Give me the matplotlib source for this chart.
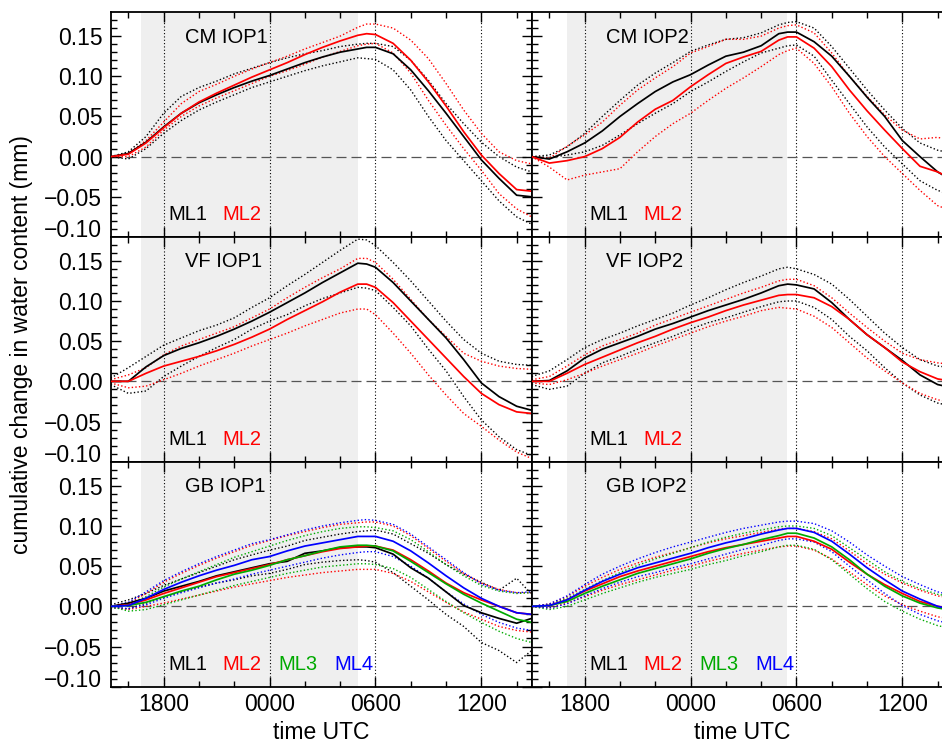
import matplotlib
matplotlib.use("Agg")
import matplotlib.pyplot as plt
import numpy as np

plt.rcParams['font.family'] = ['Liberation Sans', 'DejaVu Sans']

# time axis (hours since 00 UTC of first day)
hours = [15, 16, 17, 18, 19, 20, 21, 22, 23, 24, 25, 26, 27, 28, 29, 29.5,
         30, 31, 32, 33, 34, 35, 36, 37, 38, 38.85]
tick_hours = [18, 24, 30, 36]
tick_labels = ["1800", "0000", "0600", "1200"]
night_iop1 = (16.7, 29.0)
night_iop2 = (17.0, 29.45)

# ---------------- CM IOP1 ----------------
cm1_ml1 = [0.0, 0.004, 0.018, 0.037, 0.054, 0.067, 0.077, 0.086, 0.094, 0.101, 0.109, 0.117, 0.124, 0.130, 0.134, 0.136,
           0.136, 0.128, 0.108, 0.082, 0.054, 0.025, -0.004, -0.027, -0.048, -0.050]
cm1_ml1_hi = [0.0, 0.006, 0.025, 0.054, 0.075, 0.086, 0.094, 0.103, 0.110, 0.117, 0.123, 0.128, 0.132, 0.137, 0.140, 0.141,
              0.141, 0.137, 0.120, 0.095, 0.066, 0.041, 0.018, 0.0, -0.013, -0.019]
cm1_ml1_lo = [0.0, -0.003, 0.010, 0.029, 0.045, 0.058, 0.068, 0.077, 0.086, 0.093, 0.100, 0.107, 0.113, 0.118, 0.123, 0.122,
              0.121, 0.108, 0.083, 0.050, 0.020, -0.005, -0.030, -0.055, -0.075, -0.084]
cm1_ml2 = [0.0, 0.003, 0.017, 0.036, 0.054, 0.068, 0.079, 0.089, 0.099, 0.108, 0.117, 0.127, 0.136, 0.144, 0.151, 0.153,
           0.152, 0.141, 0.120, 0.093, 0.063, 0.031, 0.002, -0.021, -0.041, -0.043]
cm1_ml2_hi = [0.0, 0.004, 0.020, 0.043, 0.066, 0.081, 0.090, 0.100, 0.109, 0.117, 0.125, 0.134, 0.142, 0.150, 0.161, 0.165,
              0.165, 0.160, 0.145, 0.122, 0.091, 0.058, 0.029, 0.006, -0.005, -0.009]
cm1_ml2_lo = [0.0, 0.0, 0.012, 0.033, 0.050, 0.063, 0.073, 0.082, 0.091, 0.100, 0.107, 0.115, 0.124, 0.131, 0.138, 0.140,
              0.141, 0.129, 0.104, 0.070, 0.039, 0.010, -0.017, -0.046, -0.065, -0.075]

# ---------------- CM IOP2 ----------------
cm2_ml1 = [0.0, -0.003, 0.006, 0.017, 0.032, 0.050, 0.066, 0.081, 0.093, 0.102, 0.114, 0.125, 0.130, 0.138, 0.153, 0.155,
           0.155, 0.143, 0.125, 0.100, 0.074, 0.050, 0.020, 0.0, -0.019, -0.030]
cm2_ml1_hi = [0.0, 0.002, 0.012, 0.029, 0.050, 0.070, 0.089, 0.104, 0.117, 0.131, 0.139, 0.146, 0.148, 0.154, 0.164, 0.167,
              0.168, 0.160, 0.137, 0.110, 0.083, 0.058, 0.035, 0.017, 0.008, 0.004]
cm2_ml1_lo = [0.0, -0.001, 0.002, 0.006, 0.014, 0.027, 0.041, 0.054, 0.066, 0.081, 0.093, 0.106, 0.118, 0.129, 0.135, 0.138,
              0.139, 0.125, 0.095, 0.066, 0.037, 0.012, -0.009, -0.030, -0.042, -0.048]
cm2_ml2 = [0.0, -0.008, -0.005, 0.0, 0.010, 0.024, 0.043, 0.059, 0.070, 0.087, 0.102, 0.116, 0.124, 0.131, 0.145, 0.149,
           0.149, 0.135, 0.112, 0.083, 0.057, 0.033, 0.010, -0.012, -0.019, -0.028]
cm2_ml2_hi = [0.0, -0.002, 0.013, 0.027, 0.043, 0.064, 0.083, 0.098, 0.112, 0.129, 0.137, 0.146, 0.146, 0.150, 0.160, 0.163,
              0.164, 0.154, 0.129, 0.100, 0.075, 0.052, 0.033, 0.022, 0.024, 0.020]
cm2_ml2_lo = [0.0, -0.013, -0.029, -0.023, -0.019, -0.015, 0.006, 0.025, 0.041, 0.054, 0.070, 0.085, 0.098, 0.112, 0.127, 0.132,
              0.135, 0.116, 0.087, 0.054, 0.025, 0.0, -0.021, -0.042, -0.061, -0.068]

# ---------------- VF IOP1 ----------------
vf1_ml1 = [0.0, 0.0, 0.018, 0.032, 0.041, 0.048, 0.056, 0.065, 0.075, 0.086, 0.098, 0.110, 0.123, 0.135, 0.147, 0.146,
           0.142, 0.123, 0.100, 0.077, 0.054, 0.027, -0.002, -0.019, -0.031, -0.036]
vf1_ml1_hi = [0.004, 0.017, 0.031, 0.045, 0.054, 0.063, 0.070, 0.079, 0.092, 0.104, 0.119, 0.133, 0.148, 0.163, 0.177, 0.176,
              0.169, 0.148, 0.125, 0.100, 0.075, 0.052, 0.035, 0.025, 0.021, 0.020]
vf1_ml1_lo = [-0.004, -0.015, -0.012, 0.006, 0.019, 0.031, 0.042, 0.052, 0.065, 0.075, 0.083, 0.094, 0.103, 0.110, 0.117, 0.116,
              0.113, 0.092, 0.069, 0.040, 0.013, -0.019, -0.048, -0.069, -0.085, -0.092]
vf1_ml2 = [0.0, 0.0, 0.010, 0.019, 0.025, 0.031, 0.038, 0.046, 0.055, 0.065, 0.077, 0.088, 0.099, 0.111, 0.121, 0.121,
           0.117, 0.098, 0.075, 0.052, 0.029, 0.006, -0.015, -0.029, -0.038, -0.040]
vf1_ml2_hi = [0.002, 0.008, 0.017, 0.033, 0.044, 0.052, 0.060, 0.068, 0.079, 0.090, 0.104, 0.117, 0.129, 0.140, 0.153, 0.153,
              0.148, 0.127, 0.102, 0.077, 0.056, 0.035, 0.025, 0.019, 0.016, 0.015]
vf1_ml2_lo = [-0.002, -0.008, -0.006, 0.002, 0.010, 0.019, 0.027, 0.035, 0.044, 0.052, 0.060, 0.069, 0.077, 0.085, 0.090, 0.090,
              0.083, 0.060, 0.035, 0.008, -0.017, -0.040, -0.056, -0.073, -0.088, -0.096]

# ---------------- VF IOP2 ----------------
vf2_ml1 = [0.0, 0.001, 0.013, 0.029, 0.040, 0.048, 0.056, 0.065, 0.072, 0.080, 0.088, 0.095, 0.102, 0.110, 0.119, 0.121,
           0.120, 0.115, 0.098, 0.077, 0.058, 0.042, 0.026, 0.008, -0.004, -0.008]
vf2_ml1_hi = [0.006, 0.013, 0.027, 0.042, 0.052, 0.060, 0.069, 0.077, 0.085, 0.095, 0.104, 0.114, 0.123, 0.131, 0.140, 0.142,
              0.140, 0.133, 0.121, 0.102, 0.081, 0.060, 0.042, 0.027, 0.019, 0.017]
vf2_ml1_lo = [-0.004, -0.010, -0.006, 0.010, 0.023, 0.031, 0.040, 0.048, 0.056, 0.065, 0.073, 0.079, 0.086, 0.093, 0.099, 0.100,
              0.100, 0.092, 0.077, 0.056, 0.038, 0.017, -0.002, -0.017, -0.027, -0.031]
vf2_ml2 = [0.0, 0.0, 0.010, 0.021, 0.030, 0.039, 0.048, 0.056, 0.065, 0.073, 0.080, 0.088, 0.095, 0.101, 0.107, 0.108,
           0.108, 0.104, 0.093, 0.077, 0.058, 0.042, 0.024, 0.012, 0.003, 0.0]
vf2_ml2_hi = [0.002, 0.006, 0.019, 0.033, 0.044, 0.052, 0.060, 0.070, 0.078, 0.086, 0.094, 0.102, 0.110, 0.117, 0.125, 0.127,
              0.127, 0.119, 0.104, 0.085, 0.067, 0.050, 0.035, 0.027, 0.023, 0.021]
vf2_ml2_lo = [-0.002, -0.004, 0.002, 0.010, 0.019, 0.027, 0.035, 0.044, 0.052, 0.060, 0.068, 0.075, 0.081, 0.088, 0.092, 0.091,
              0.090, 0.081, 0.067, 0.048, 0.029, 0.013, -0.002, -0.015, -0.023, -0.026]

# ---------------- GB IOP1 ----------------
gb1_ml1 = [0.0, 0.004, 0.010, 0.019, 0.025, 0.031, 0.038, 0.043, 0.048, 0.053, 0.056, 0.066, 0.069, 0.073, 0.074, 0.074,
           0.073, 0.065, 0.048, 0.035, 0.018, 0.001, -0.008, -0.015, -0.021, -0.015]
gb1_ml1_hi = [0.002, 0.008, 0.016, 0.026, 0.034, 0.042, 0.050, 0.058, 0.064, 0.070, 0.075, 0.082, 0.086, 0.090, 0.093, 0.094,
              0.095, 0.090, 0.078, 0.066, 0.052, 0.040, 0.030, 0.020, 0.035, 0.015]
gb1_ml1_lo = [-0.002, -0.003, 0.004, 0.012, 0.018, 0.024, 0.029, 0.033, 0.038, 0.041, 0.046, 0.052, 0.055, 0.057, 0.058, 0.057,
              0.055, 0.042, 0.025, 0.008, -0.010, -0.025, -0.045, -0.055, -0.070, -0.055]
gb1_ml2 = [0.0, 0.002, 0.008, 0.016, 0.023, 0.030, 0.037, 0.042, 0.047, 0.052, 0.058, 0.063, 0.068, 0.072, 0.074, 0.075,
           0.075, 0.070, 0.058, 0.044, 0.029, 0.017, 0.008, 0.0, -0.008, -0.010]
gb1_ml2_hi = [0.0, 0.004, 0.016, 0.030, 0.041, 0.051, 0.060, 0.068, 0.076, 0.082, 0.088, 0.093, 0.098, 0.102, 0.104, 0.105,
              0.105, 0.100, 0.088, 0.072, 0.056, 0.041, 0.029, 0.021, 0.017, 0.017]
gb1_ml2_lo = [0.0, -0.004, 0.0, 0.004, 0.009, 0.014, 0.019, 0.024, 0.028, 0.032, 0.036, 0.039, 0.042, 0.044, 0.046, 0.046,
              0.046, 0.041, 0.031, 0.018, 0.005, -0.007, -0.016, -0.025, -0.030, -0.032]
gb1_ml3 = [0.0, 0.001, 0.005, 0.012, 0.019, 0.025, 0.033, 0.040, 0.045, 0.051, 0.058, 0.063, 0.069, 0.074, 0.076, 0.076,
           0.075, 0.069, 0.056, 0.042, 0.028, 0.015, 0.004, -0.006, -0.016, -0.020]
gb1_ml3_hi = [0.0, 0.003, 0.012, 0.024, 0.034, 0.043, 0.052, 0.061, 0.068, 0.075, 0.082, 0.088, 0.093, 0.097, 0.099, 0.099,
              0.098, 0.094, 0.083, 0.068, 0.052, 0.038, 0.026, 0.019, 0.016, 0.017]
gb1_ml3_lo = [0.0, -0.006, -0.004, 0.002, 0.008, 0.014, 0.020, 0.026, 0.031, 0.036, 0.041, 0.045, 0.049, 0.051, 0.053, 0.053,
              0.052, 0.047, 0.036, 0.021, 0.006, -0.008, -0.020, -0.031, -0.040, -0.045]
gb1_ml4 = [0.0, 0.001, 0.010, 0.021, 0.030, 0.038, 0.045, 0.051, 0.058, 0.062, 0.069, 0.075, 0.079, 0.083, 0.087, 0.087,
           0.087, 0.081, 0.069, 0.054, 0.038, 0.023, 0.010, 0.0, -0.008, -0.010]
gb1_ml4_hi = [0.0, 0.005, 0.018, 0.032, 0.043, 0.053, 0.062, 0.070, 0.078, 0.083, 0.089, 0.095, 0.100, 0.104, 0.107, 0.108,
              0.107, 0.102, 0.090, 0.074, 0.058, 0.042, 0.028, 0.020, 0.017, 0.018]
gb1_ml4_lo = [0.0, -0.003, 0.002, 0.010, 0.017, 0.023, 0.029, 0.034, 0.040, 0.045, 0.050, 0.055, 0.060, 0.064, 0.067, 0.068,
              0.068, 0.062, 0.050, 0.035, 0.018, 0.003, -0.010, -0.020, -0.027, -0.030]

# ---------------- GB IOP2 ----------------
gb2_ml2 = [0.0, 0.001, 0.008, 0.019, 0.028, 0.037, 0.044, 0.050, 0.056, 0.062, 0.068, 0.073, 0.077, 0.081, 0.085, 0.087,
           0.087, 0.081, 0.071, 0.055, 0.040, 0.027, 0.016, 0.006, 0.0, -0.003]
gb2_ml2_hi = [0.0, 0.003, 0.012, 0.025, 0.036, 0.046, 0.054, 0.061, 0.067, 0.073, 0.079, 0.084, 0.088, 0.092, 0.096, 0.097,
              0.097, 0.093, 0.084, 0.069, 0.053, 0.040, 0.029, 0.020, 0.013, 0.010]
gb2_ml2_lo = [0.0, -0.002, 0.004, 0.012, 0.020, 0.027, 0.033, 0.039, 0.045, 0.050, 0.056, 0.061, 0.066, 0.070, 0.074, 0.075,
              0.075, 0.070, 0.059, 0.043, 0.027, 0.013, 0.002, -0.006, -0.013, -0.016]
gb2_ml3 = [0.0, 0.001, 0.006, 0.016, 0.025, 0.033, 0.041, 0.047, 0.053, 0.059, 0.066, 0.072, 0.077, 0.083, 0.088, 0.091,
           0.091, 0.085, 0.074, 0.058, 0.040, 0.025, 0.013, 0.004, -0.002, -0.005]
gb2_ml3_hi = [0.0, 0.002, 0.010, 0.021, 0.032, 0.042, 0.051, 0.059, 0.066, 0.073, 0.080, 0.086, 0.091, 0.095, 0.099, 0.100,
              0.100, 0.097, 0.088, 0.073, 0.058, 0.043, 0.031, 0.022, 0.015, 0.012]
gb2_ml3_lo = [0.0, -0.004, 0.0, 0.008, 0.016, 0.023, 0.030, 0.036, 0.041, 0.046, 0.052, 0.057, 0.063, 0.068, 0.074, 0.076,
              0.076, 0.071, 0.058, 0.040, 0.022, 0.006, -0.006, -0.016, -0.024, -0.028]
gb2_ml4 = [0.0, 0.001, 0.008, 0.020, 0.031, 0.040, 0.048, 0.054, 0.060, 0.066, 0.073, 0.079, 0.084, 0.090, 0.095, 0.097,
           0.097, 0.092, 0.081, 0.065, 0.048, 0.033, 0.019, 0.009, 0.0, -0.004]
gb2_ml4_hi = [0.0, 0.003, 0.013, 0.027, 0.040, 0.050, 0.059, 0.067, 0.074, 0.080, 0.086, 0.092, 0.097, 0.101, 0.105, 0.106,
              0.106, 0.103, 0.094, 0.080, 0.064, 0.050, 0.037, 0.027, 0.018, 0.014]
gb2_ml4_lo = [0.0, -0.002, 0.003, 0.013, 0.022, 0.030, 0.037, 0.042, 0.048, 0.053, 0.059, 0.065, 0.071, 0.076, 0.082, 0.084,
              0.084, 0.080, 0.068, 0.050, 0.033, 0.016, 0.001, -0.010, -0.018, -0.022]

ml_names = ["ML1", "ML2", "ML3", "ML4"]
ml_colors = ["black", "#ff0000", "#00aa00", "#0000ff"]

panels = [
    ("CM IOP1", 0, 0, night_iop1, 2, {0: (cm1_ml1, cm1_ml1_hi, cm1_ml1_lo), 1: (cm1_ml2, cm1_ml2_hi, cm1_ml2_lo)}),
    ("CM IOP2", 0, 1, night_iop2, 2, {0: (cm2_ml1, cm2_ml1_hi, cm2_ml1_lo), 1: (cm2_ml2, cm2_ml2_hi, cm2_ml2_lo)}),
    ("VF IOP1", 1, 0, night_iop1, 2, {0: (vf1_ml1, vf1_ml1_hi, vf1_ml1_lo), 1: (vf1_ml2, vf1_ml2_hi, vf1_ml2_lo)}),
    ("VF IOP2", 1, 1, night_iop2, 2, {0: (vf2_ml1, vf2_ml1_hi, vf2_ml1_lo), 1: (vf2_ml2, vf2_ml2_hi, vf2_ml2_lo)}),
    ("GB IOP1", 2, 0, night_iop1, 4, {0: (gb1_ml1, gb1_ml1_hi, gb1_ml1_lo), 1: (gb1_ml2, gb1_ml2_hi, gb1_ml2_lo),
                                      2: (gb1_ml3, gb1_ml3_hi, gb1_ml3_lo), 3: (gb1_ml4, gb1_ml4_hi, gb1_ml4_lo)}),
    ("GB IOP2", 2, 1, night_iop2, 4, {1: (gb2_ml2, gb2_ml2_hi, gb2_ml2_lo),
                                      2: (gb2_ml3, gb2_ml3_hi, gb2_ml3_lo), 3: (gb2_ml4, gb2_ml4_hi, gb2_ml4_lo)}),
]

W, H = 942, 743
fig = plt.figure(figsize=(W / 100, H / 100), dpi=100)

ax_left = 110.7
ax_w = 421.0
ax_h = 225.0
row_tops = [12.0, 236.7, 461.7]
xmin, xmax = 15.0, 15.0 + ax_w / 17.65
ymin, ymax = -0.10, 0.18

label_fs = 16.5
text_fs = 14.5

for title, r, c, night, nml, series in panels:
    x0 = ax_left + c * ax_w
    y_top = row_tops[r]
    ax = fig.add_axes([x0 / W, 1 - (y_top + ax_h) / H, ax_w / W, ax_h / H])
    ax.set_xlim(xmin, xmax)
    ax.set_ylim(ymin, ymax)
    ax.axvspan(night[0], night[1], color="#efefef", zorder=0, lw=0)
    for th in tick_hours:
        ax.axvline(th, color="black", lw=0.8, ls=(0, (1, 2)), zorder=1)
    ax.axhline(0, color="#555555", lw=0.9, ls=(0, (8, 4)), zorder=1)
    # dotted ranges first, then means
    for k in sorted(series):
        mean, hi, lo = series[k]
        col = ml_colors[k]
        ax.plot(hours, hi, color=col, lw=1.0, ls=(0, (1, 1.6)), zorder=2)
        ax.plot(hours, lo, color=col, lw=1.0, ls=(0, (1, 1.6)), zorder=2)
    for k in sorted(series):
        mean, hi, lo = series[k]
        ax.plot(hours, mean, color=ml_colors[k], lw=1.25, zorder=3)

    ax.text(0.176, 0.888, title, transform=ax.transAxes, fontsize=text_fs,
            ha="left", va="center", color="black")
    ml_x = [0.136, 0.266, 0.399, 0.531]
    for k in range(nml):
        ax.text(ml_x[k], 0.10, ml_names[k], transform=ax.transAxes, fontsize=text_fs,
                ha="left", va="center", color=ml_colors[k])

    ax.set_xticks(tick_hours)
    ax.set_xticks([16, 20, 22, 26, 28, 32, 34, 38], minor=True)
    ax.set_yticks([-0.10, -0.05, 0.0, 0.05, 0.10, 0.15])
    ax.set_yticks(np.arange(-10, 18) / 100.0, minor=True)
    ax.tick_params(which="both", direction="in", top=True, right=True, width=1.0)
    ax.tick_params(which="major", length=7)
    ax.tick_params(which="minor", length=4)
    ax.tick_params(axis="y", labelsize=label_fs, pad=6)
    ax.tick_params(axis="x", labelsize=label_fs, pad=4.5)
    for sp in ax.spines.values():
        sp.set_linewidth(1.3)

    if r == 2:
        ax.set_xticklabels(tick_labels)
        ax.set_xlabel("time UTC", fontsize=label_fs, labelpad=3.5)
    else:
        ax.set_xticklabels([])
    if c == 0:
        ax.set_yticklabels(["\u22120.10", "\u22120.05", "0.00", "0.05", "0.10", "0.15"])
        lbls = ax.get_yticklabels()
        lbls[0].set_verticalalignment("baseline")
    else:
        ax.set_yticklabels([])

fig.text(22 / W, 1 - 345 / H, "cumulative change in water content (mm)", rotation=90,
         ha="center", va="center", fontsize=label_fs)

fig.savefig("out.png", dpi=100)
